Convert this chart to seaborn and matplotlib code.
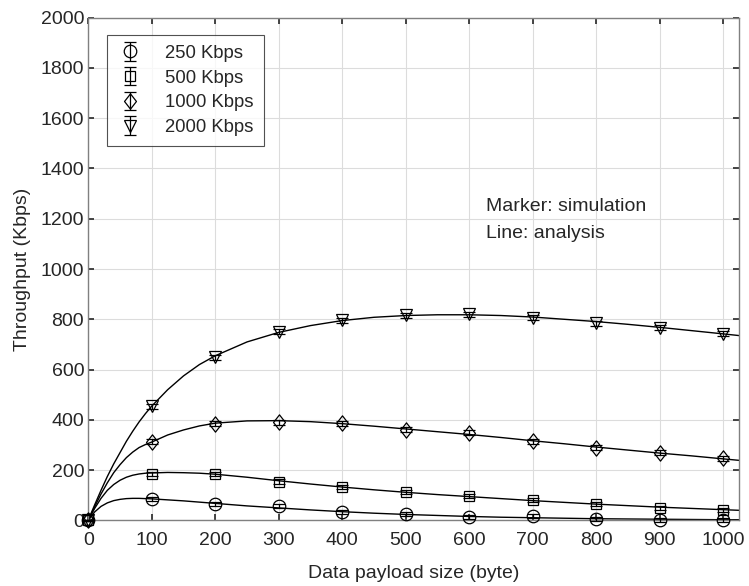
import numpy as np
import pandas as pd
import matplotlib
matplotlib.use("Agg")
import matplotlib.pyplot as plt
from matplotlib.path import Path
import seaborn as sns

# ---- simulation results (markers) ----
payload_sim = [0, 100, 200, 300, 400, 500, 600, 700, 800, 900, 1000]
sim_250 = [0, 84, 64, 57, 33, 24, 14, 16, 7, 3, 3]
sim_500 = [0, 183, 183, 155, 133, 115, 99, 80, 64, 50, 43]
sim_1000 = [0, 314, 385, 391, 387, 361, 349, 316, 289, 269, 248]
sim_2000 = [0, 455, 650, 750, 796, 816, 820, 807, 785, 767, 743]
err_250 = [2, 8, 8, 8, 8, 8, 8, 8, 8, 8, 8]
err_500 = [2, 8, 8, 8, 8, 8, 8, 8, 8, 8, 8]
err_1000 = [2, 10, 10, 10, 10, 10, 10, 10, 10, 10, 10]
err_2000 = [2, 10, 10, 10, 10, 10, 10, 10, 10, 10, 10]

# ---- analytical model (lines) ----
payload_ana = [0, 5, 10, 20, 30, 40, 50, 60, 70, 80, 90, 100, 125, 150, 175,
               200, 250, 300, 350, 400, 450, 500, 550, 600, 650, 700, 750,
               800, 850, 900, 950, 1000, 1030]
ana_250 = [0, 18, 34, 56, 70, 79, 84, 87, 88, 88, 87, 86, 82, 78, 73,
           68, 58, 50, 42, 35, 29, 24, 20, 16, 13, 11, 9,
           7, 6, 5, 4, 3, 3]
ana_500 = [0, 25, 48, 88, 120, 143, 160, 172, 180, 185, 188, 189, 191, 190, 188,
           184, 172, 158, 145, 133, 122, 112, 103, 95, 87, 79, 72,
           65, 59, 53, 48, 43, 40]
ana_1000 = [0, 28, 55, 105, 150, 190, 222, 250, 272, 290, 302, 312, 340, 360, 376,
            387, 396, 397, 393, 385, 375, 364, 353, 342, 330, 317, 305,
            292, 280, 268, 257, 245, 238]
ana_2000 = [0, 32, 62, 120, 175, 225, 270, 315, 355, 392, 425, 455, 520, 575, 620,
            655, 710, 748, 775, 795, 808, 815, 818, 818, 815, 809, 800,
            791, 780, 768, 755, 742, 734]

rates = ["250 Kbps", "500 Kbps", "1000 Kbps", "2000 Kbps"]

sns.set_style("ticks")
plt.rcParams["font.family"] = ["Liberation Sans", "DejaVu Sans"]
plt.rcParams["text.color"] = "#262626"
FS = 14

fig = plt.figure(figsize=(7.49, 5.86), dpi=100)
ax = fig.add_axes([0.1179, 0.1118, 0.8688, 0.8583])

# analysis curves
ana_df = pd.concat([
    pd.DataFrame({"payload": payload_ana, "throughput": vals, "rate": r})
    for r, vals in zip(rates, [ana_250, ana_500, ana_1000, ana_2000])
])
sns.lineplot(data=ana_df, x="payload", y="throughput", hue="rate",
             palette={r: "black" for r in rates}, linewidth=1.0,
             legend=False, ax=ax, sort=False)

# diamond taller than wide
diamond = Path([(0, 1), (0.78, 0), (0, -1), (-0.78, 0), (0, 1)],
               [Path.MOVETO, Path.LINETO, Path.LINETO, Path.LINETO, Path.CLOSEPOLY])

styles = [("o", 9), ("s", 6.8), (diamond, 11), ("v", 8.5)]
sims = [sim_250, sim_500, sim_1000, sim_2000]
errs = [err_250, err_500, err_1000, err_2000]
for r, (mk, ms), ys, es in zip(rates, styles, sims, errs):
    ax.errorbar(payload_sim, ys, yerr=es, fmt="", marker=mk, ms=ms, mfc="none",
                mec="black", mew=0.9, ecolor="black", elinewidth=0.9,
                capsize=4, capthick=0.9, linestyle="none", label=r,
                clip_on=False, zorder=3)

ax.set_xlim(0, 1025)
ax.set_ylim(0, 2000)
ax.set_xticks(np.arange(0, 1001, 100))
ax.set_yticks(np.arange(0, 2001, 200))
ax.grid(True, color="#dcdcdc", linewidth=0.8)
ax.set_axisbelow(True)
for s in ax.spines.values():
    s.set_color("#808080")
    s.set_linewidth(1.0)
ax.tick_params(direction="in", length=4, width=1.2, color="#262626",
               top=True, right=True, labelsize=FS, labelcolor="#262626")
ax.tick_params(axis="x", pad=8)
ax.tick_params(axis="y", pad=3)

ax.set_xlabel("Data payload size (byte)", fontsize=FS, color="#262626", labelpad=12)
ax.set_ylabel("Throughput (Kbps)", fontsize=FS, color="#262626", labelpad=7)

ax.text(627, 1250, "Marker: simulation", fontsize=FS, va="center", ha="left")
ax.text(627, 1143, "Line: analysis", fontsize=FS, va="center", ha="left")

leg = ax.legend(loc="upper left", bbox_to_anchor=(0.029, 0.966), fontsize=13.3,
                frameon=True, fancybox=False, edgecolor="#262626",
                handlelength=1.4, handletextpad=1.2, labelspacing=0.42,
                borderpad=0.55, borderaxespad=0)
leg.get_frame().set_linewidth(0.8)

fig.savefig("out.png", dpi=100)
